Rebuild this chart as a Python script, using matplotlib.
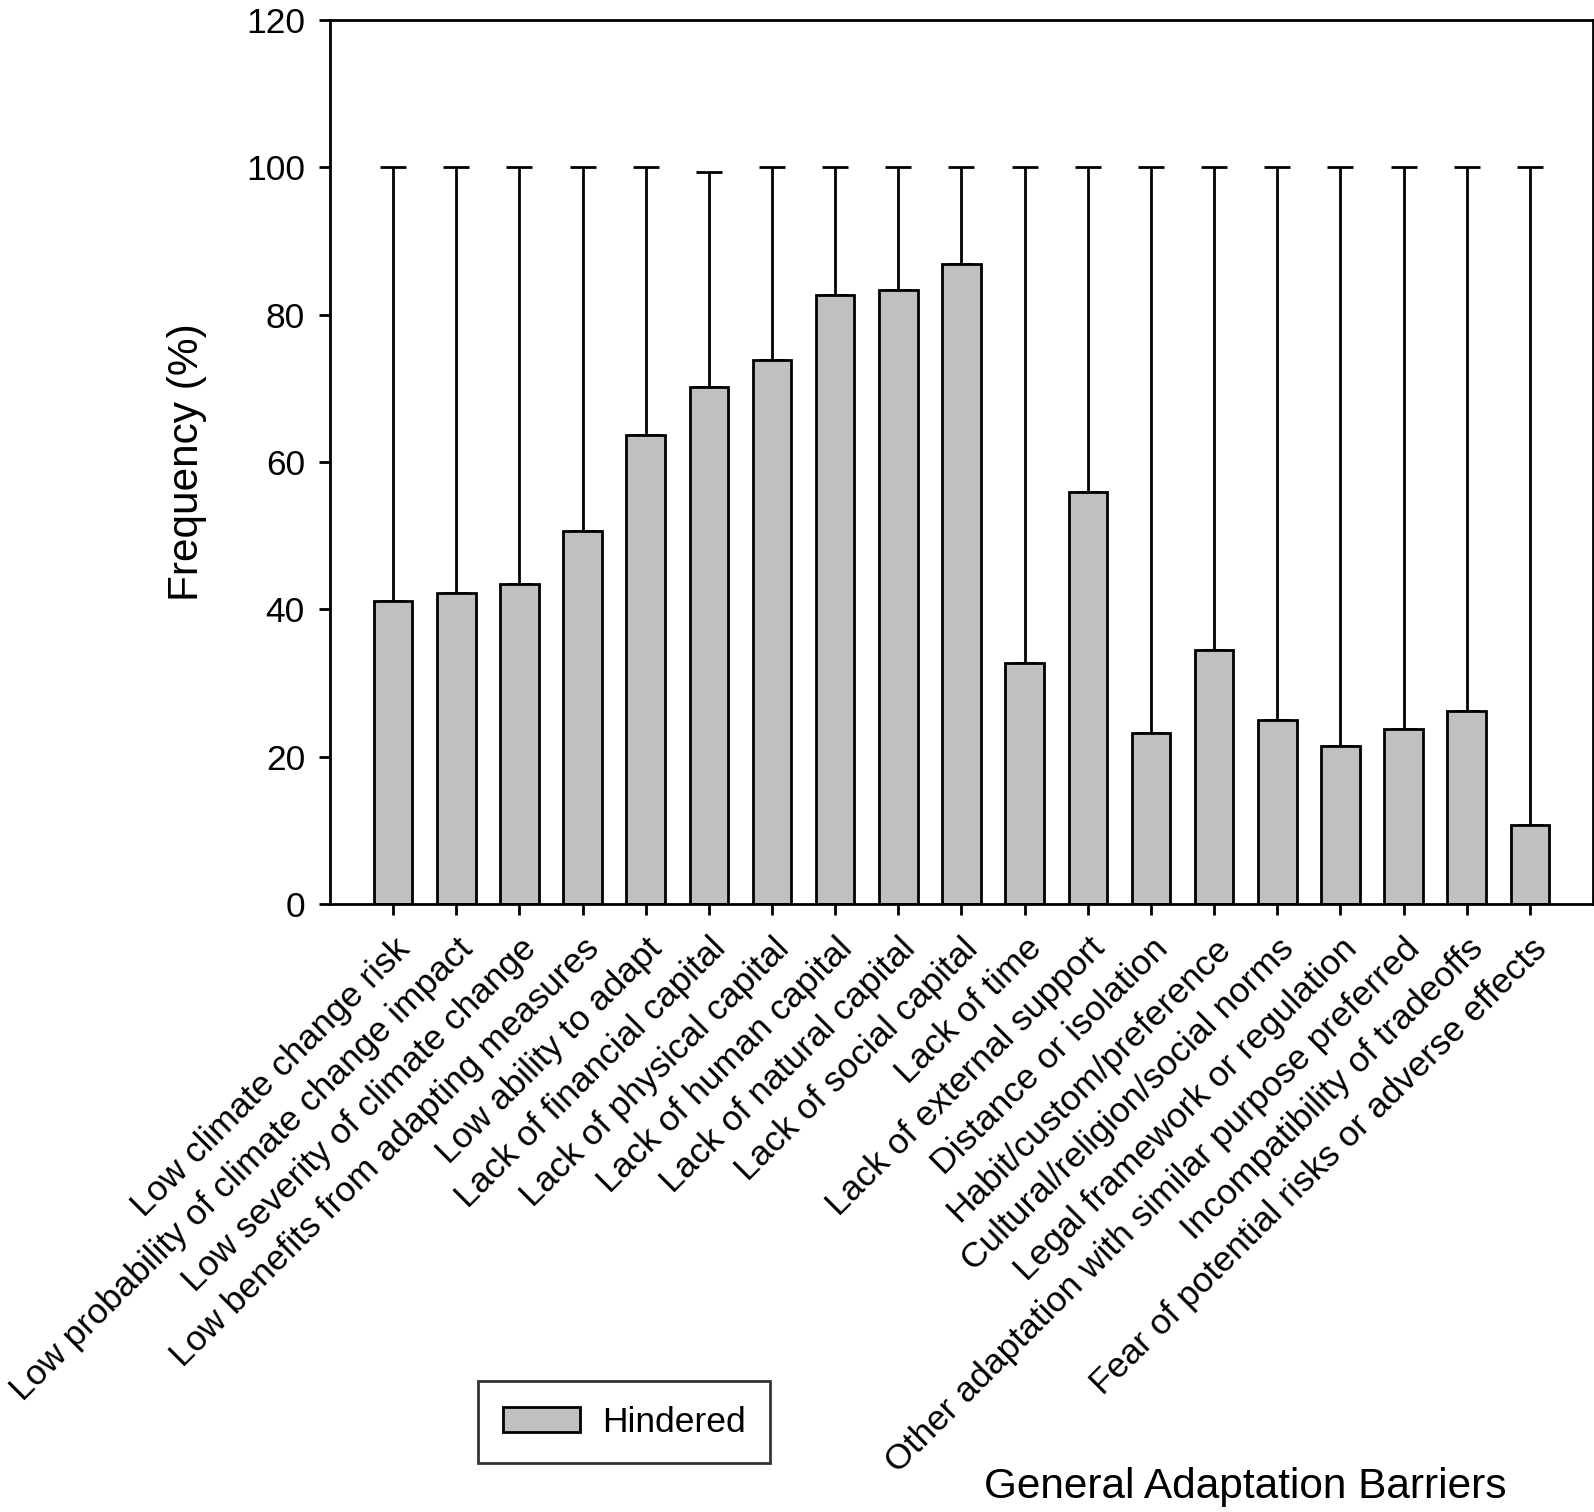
import numpy as np
import matplotlib.pyplot as plt

plt.rcParams['font.family'] = ['Liberation Sans', 'DejaVu Sans']

barriers = ["Low climate change risk",
            "Low probability of climate change impact",
            "Low severity of climate change",
            "Low benefits from adapting measures",
            "Low ability to adapt",
            "Lack of financial capital",
            "Lack of physical capital",
            "Lack of human capital",
            "Lack of natural capital",
            "Lack of social capital",
            "Lack of time",
            "Lack of external support",
            "Distance or isolation",
            "Habit/custom/preference",
            "Cultural/religion/social norms",
            "Legal framework or regulation",
            "Other adaptation with similar purpose preferred",
            "Incompatibility of tradeoffs",
            "Fear of potential risks or adverse effects"]
hindered = [41.1, 42.2, 43.5, 50.6, 63.6, 70.2, 73.8, 82.7, 83.3, 86.9,
            32.7, 55.9, 23.2, 34.5, 25.0, 21.4, 23.8, 26.2, 10.7]
err_top = [100, 100, 100, 100, 100, 99.4, 100, 100, 100, 100,
           100, 100, 100, 100, 100, 100, 100, 100, 100]

fig = plt.figure(figsize=(15.94, 15.12), dpi=100)
ax = fig.add_axes([330/1594, 1 - 904/1512, (1593-330)/1594, (904-20)/1512])

x = np.arange(1, len(barriers) + 1)
vals = np.array(hindered)
up = np.array(err_top) - vals
ax.bar(x, vals, width=0.61, color='#c0c0c0', edgecolor='black', linewidth=2,
       label='Hindered', zorder=2)
ax.errorbar(x, vals, yerr=[np.zeros_like(vals), up], fmt='none', ecolor='black',
            elinewidth=2, capsize=9.5, capthick=2, zorder=1)

ax.set_xlim(0, 20)
ax.set_ylim(0, 120)
ax.set_yticks(np.arange(0, 121, 20))
ax.set_xticks(x)
ax.set_xticklabels(barriers, rotation=45, ha='right', rotation_mode='anchor')
ax.tick_params(axis='both', direction='out', length=8, width=2, labelsize=25.5)
ax.tick_params(axis='x', pad=12)
ax.tick_params(axis='y', pad=10)
for s in ax.spines.values():
    s.set_linewidth(2)
ax.set_ylabel('Frequency (%)', fontsize=30.5, labelpad=28)

fig.text(1225/1568, 1 - 1462/1487, 'General Adaptation Barriers', fontsize=30.5,
         ha='center', va='center')

leg = fig.legend(loc='center', bbox_to_anchor=(624/1594, 1 - 1422/1512),
                 fontsize=25.5, frameon=True, fancybox=False, edgecolor='black',
                 handlelength=2.2, handleheight=0.7, borderpad=0.7,
                 handletextpad=0.6, borderaxespad=0)
leg.get_frame().set_linewidth(2)

fig.savefig('out.png', dpi=100)
